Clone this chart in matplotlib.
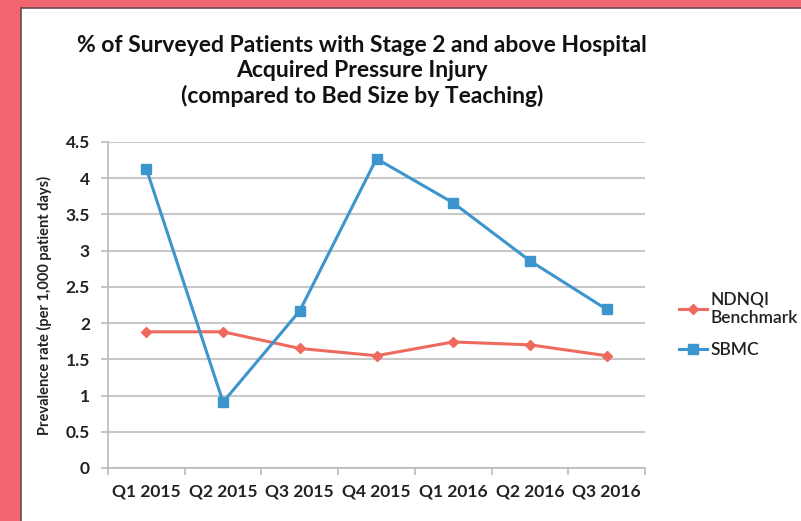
import matplotlib.pyplot as plt
from matplotlib.patches import Rectangle
from matplotlib.lines import Line2D

quarters = ['Q1 2015', 'Q2 2015', 'Q3 2015', 'Q4 2015', 'Q1 2016', 'Q2 2016', 'Q3 2016']
ndnqi = [1.88, 1.88, 1.65, 1.55, 1.74, 1.70, 1.55]
sbmc = [4.13, 0.91, 2.17, 4.27, 3.66, 2.86, 2.19]
yticks = [0, 0.5, 1, 1.5, 2, 2.5, 3, 3.5, 4, 4.5]

plt.rcParams['font.family'] = ['Lato', 'DejaVu Sans']

fig = plt.figure(figsize=(8.01, 5.21), dpi=100)
fig.patch.set_facecolor('#F0656F')

# white card with a thin shadow edge
fig.patches.append(Rectangle((21 / 801, 0), 1, 513 / 521, transform=fig.transFigure,
                             facecolor='white', edgecolor='none', zorder=-10))
fig.lines.append(Line2D([21 / 801, 21 / 801], [0, 513 / 521], transform=fig.transFigure,
                        color='#6b4a4c', lw=1.2, zorder=-5))
fig.lines.append(Line2D([21 / 801, 1], [513 / 521, 513 / 521], transform=fig.transFigure,
                        color='#6b4a4c', lw=1.2, zorder=-5))

ax = fig.add_axes([108 / 801, 53 / 521, 537 / 801, 326 / 521])
ax.set_facecolor('white')

x = list(range(len(quarters)))
ax.plot(x, ndnqi, color='#EE6A5F', lw=2.2, marker='D', ms=5, label='NDNQI\nBenchmark', zorder=3)
ax.plot(x, sbmc, color='#3D95CE', lw=2.2, marker='s', ms=7, label='SBMC', zorder=4)

ax.set_xlim(-0.5, len(quarters) - 0.5)
ax.set_ylim(0, 4.5)
ax.set_yticks(yticks)
ax.set_yticklabels(['0', '0.5', '1', '1.5', '2', '2.5', '3', '3.5', '4', '4.5'],
                   fontsize=12.5, fontweight='bold', color='#222222')
ax.yaxis.grid(True, color='#C8C8C8', lw=1.5)
ax.set_axisbelow(True)

ax.set_xticks(x)
ax.set_xticklabels(quarters, fontsize=12.5, fontweight='bold', color='#222222')
ax.tick_params(axis='x', length=0, pad=11)
ax.set_xticks([i - 0.5 for i in range(len(quarters) + 1)], minor=True)
ax.tick_params(axis='x', which='minor', length=5, color='#BBBBBB', width=1.2)
ax.tick_params(axis='y', length=5, color='#BBBBBB', width=1.2, pad=8)

for s in ['top', 'right']:
    ax.spines[s].set_visible(False)
for s in ['left', 'bottom']:
    ax.spines[s].set_color('#BBBBBB')
    ax.spines[s].set_linewidth(1.2)

ax.set_ylabel('Prevalence rate (per 1,000 patient days)', fontsize=10.5, fontweight='bold',
              color='#222222', labelpad=10)

fig.text(362 / 801, 1 - 71 / 521,
         '% of Surveyed Patients with Stage 2 and above Hospital\n'
         'Acquired Pressure Injury\n(compared to Bed Size by Teaching)',
         ha='center', va='center', fontsize=16.5, fontweight='bold', color='#111111',
         linespacing=1.2)

leg = ax.legend(loc='center left', bbox_to_anchor=(1.035, 0.44), frameon=False,
                fontsize=12.5, handlelength=1.6, handletextpad=0.2, labelspacing=0.9,
                borderaxespad=0.5)
for t in leg.get_texts():
    t.set_color('#222222')
    t.set_fontweight('semibold')

plt.savefig('out.png', dpi=100, facecolor=fig.get_facecolor())
